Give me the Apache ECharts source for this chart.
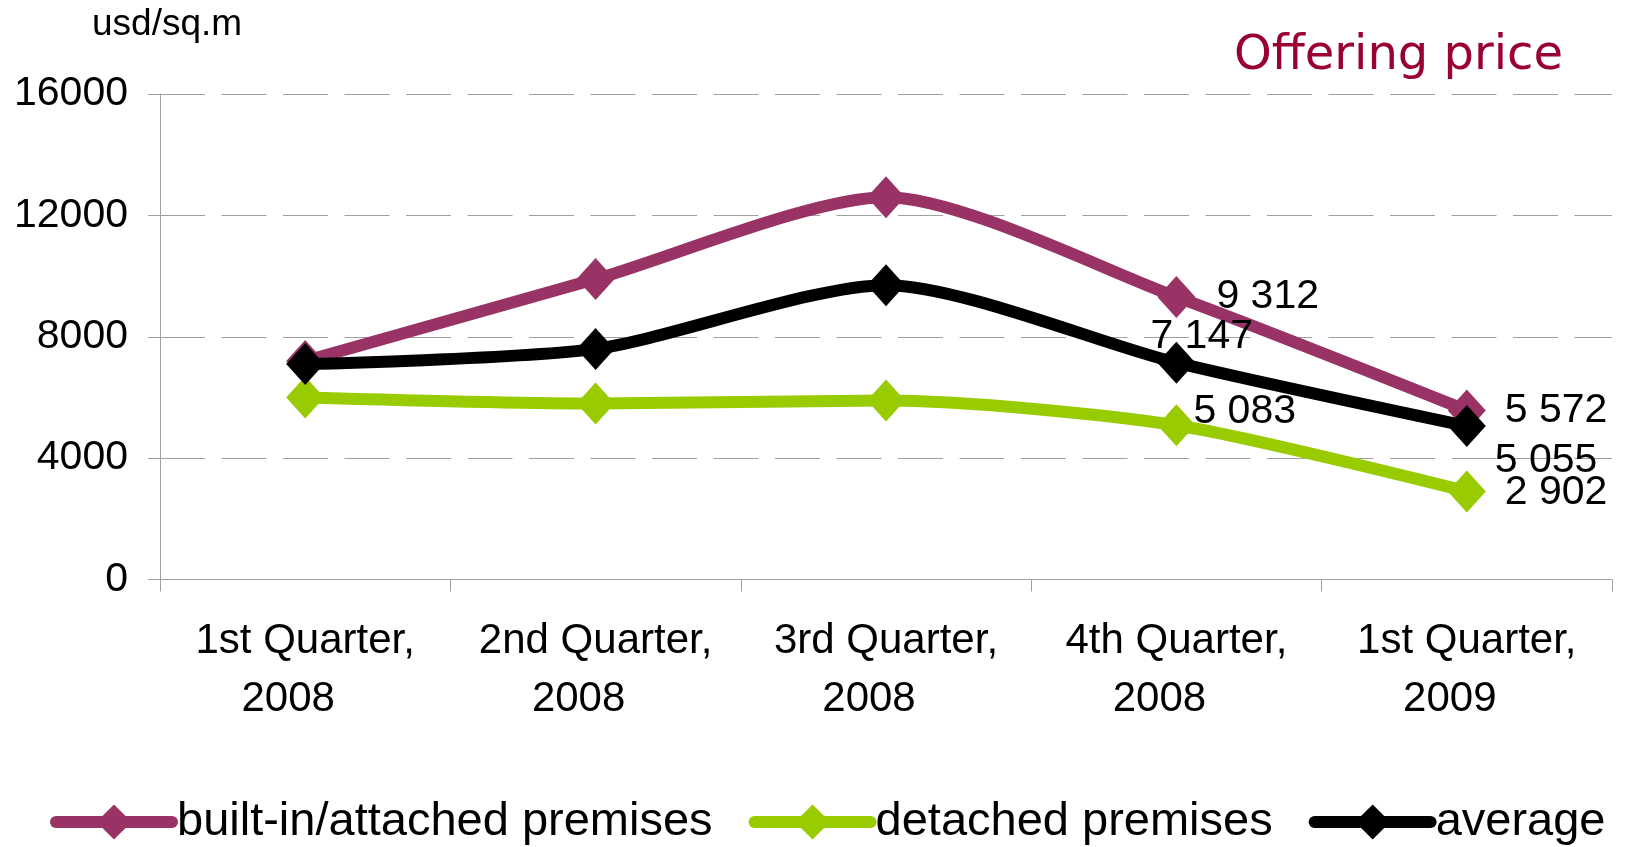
<!DOCTYPE html>
<html>
<head>
<meta charset="utf-8">
<script src="https://cdn.jsdelivr.net/npm/echarts@6/dist/echarts.min.js"></script>
<style>
html,body{margin:0;padding:0;background:#ffffff;}
#chart{width:1639px;height:847px;}
</style>
</head>
<body>
<div id="chart"></div>
<script>
// ---- data ----
const categories = ['1st Quarter, 2008', '2nd Quarter, 2008', '3rd Quarter, 2008', '4th Quarter, 2008', '1st Quarter, 2009'];
const builtIn = [7200, 9900, 12600, 9312, 5572];
const detached = [6000, 5800, 5900, 5083, 2902];
const average = [7100, 7600, 9700, 7147, 5055];
const seriesNames = ['built-in/attached premises', 'detached premises', 'average'];
const yTicks = [0, 4000, 8000, 12000, 16000];
const unitLabel = 'usd/sq.m';
const chartTitle = 'Offering price';

// ---- styling / label placement (not data) ----
const colors = ['#993366', '#99CC00', '#000000'];
const labelOffsets = [
  { 3: [40, 0], 4: [38, 0] },
  { 3: [17, -14], 4: [38, 1] },
  { 3: [-26, -26], 4: [28, 35] }
];
const FONT = "'Liberation Sans', Arial, sans-serif";

function fmt(v) {
  return String(v).replace(/\B(?=(\d{3})+(?!\d))/g, ' ');
}

function buildData(values, idx) {
  return values.map((v, i) => {
    const off = labelOffsets[idx][i];
    if (!off) return { value: v, label: { show: false } };
    return {
      value: v,
      label: {
        show: true,
        position: 'inside',
        align: 'left',
        verticalAlign: 'middle',
        offset: off,
        formatter: p => fmt(p.value),
        color: '#000',
        fontFamily: FONT,
        fontSize: 41
      }
    };
  });
}

const seriesValues = [builtIn, detached, average];

const chart = echarts.init(document.getElementById('chart'), null, { renderer: 'canvas' });

chart.setOption({
  animation: false,
  backgroundColor: '#ffffff',
  title: [
    {
      text: unitLabel,
      left: 92, top: 6, padding: 0,
      textStyle: { fontFamily: FONT, fontSize: 37, lineHeight: 37, fontWeight: 'normal', color: '#000' }
    },
    {
      text: chartTitle,
      right: 76, top: 33, padding: 0,
      textStyle: { fontFamily: "'DejaVu Sans', Verdana, sans-serif", fontSize: 48, lineHeight: 48, fontWeight: 'normal', color: '#990033' }
    }
  ],
  grid: {
    left: 160, right: 27, top: 94, bottom: 267.5,
    containLabel: false,
    outerBoundsMode: 'none'
  },
  legend: {
    left: 50, top: 798, padding: 0,
    width: 1800,
    itemWidth: 116, itemHeight: 44, itemGap: 36,
    data: seriesNames,
    lineStyle: { width: 12, cap: 'round' },
    textStyle: { fontFamily: FONT, fontSize: 47, lineHeight: 48, color: '#000' }
  },
  xAxis: {
    type: 'category',
    data: categories,
    boundaryGap: true,
    axisLine: { show: true, lineStyle: { color: '#A0A0A0', width: 1 } },
    axisTick: { show: true, length: 12, interval: 0, lineStyle: { color: '#A0A0A0' } },
    splitLine: { show: false },
    axisLabel: {
      interval: 0,
      margin: 33,
      formatter: v => {
        const parts = v.split(', ');
        return '{a|' + parts[0] + ',}\n{b|' + parts[1] + '}';
      },
      rich: {
        a: { fontFamily: FONT, fontSize: 42, lineHeight: 58, color: '#000' },
        b: { fontFamily: FONT, fontSize: 42, lineHeight: 58, color: '#000', padding: [0, 34, 0, 0] }
      }
    }
  },
  yAxis: {
    type: 'value',
    min: yTicks[0], max: yTicks[yTicks.length - 1], interval: yTicks[1] - yTicks[0],
    axisLine: { show: true, lineStyle: { color: '#A0A0A0', width: 1 } },
    axisTick: { show: true, length: 12, lineStyle: { color: '#A0A0A0' } },
    splitLine: { show: true, lineStyle: { color: '#A0A0A0', width: 1, type: [45, 16.5] } },
    axisLabel: { margin: 32, fontFamily: FONT, fontSize: 41, color: '#000', formatter: v => String(v) }
  },
  series: seriesValues.map((vals, idx) => ({
    name: seriesNames[idx],
    type: 'line',
    data: buildData(vals, idx),
    smooth: 0.25,
    symbol: 'diamond',
    symbolSize: [38, 42],
    color: colors[idx],
    itemStyle: { color: colors[idx] },
    lineStyle: { color: colors[idx], width: 12, join: 'round', cap: 'round' },
    emphasis: { disabled: true },
    z: 2 + idx
  }))
});
</script>
</body>
</html>
